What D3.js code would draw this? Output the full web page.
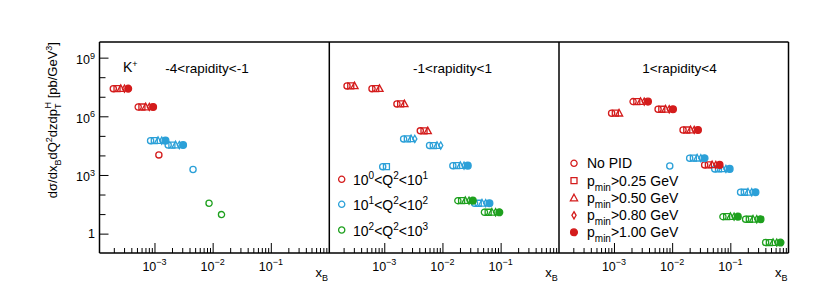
<!DOCTYPE html>
<html><head><meta charset="utf-8">
<script src="https://cdn.jsdelivr.net/npm/d3@7"></script>
<style>body{margin:0;background:#fff} text{font-family:"Liberation Sans",Arial,sans-serif;fill:#000}</style>
</head><body><svg id="c" width="830" height="293"></svg>
<script>
// ---------------- data ----------------
const panelTitles = ["-4<rapidity<-1", "-1<rapidity<1", "1<rapidity<4"];
const q2Lo = ["0", "1", "2"];
const q2Hi = ["1", "2", "3"];
const q2Colors = ["#d41c1c", "#2ba0d8", "#1ea01e"];
const pidLabels = ["No PID", "0.25", "0.50", "0.80", "1.00"];
const pidShapes = ["circle", "square", "triangle", "diamond", "fcircle"];
const xTickExps = [-3, -2, -1];
const yTickExps = [0, 3, 6, 9];

// panel 1 : -4<rapidity<-1
const p1_xB    = [1.96e-4, 5.25e-4, 1.19e-3, 8.57e-4, 1.72e-3, 4.6e-3, 8.67e-3, 1.42e-2];
const p1_sigma = [2.6e7, 3.0e6, 1.06e4, 5.7e4, 3.4e4, 1.9e3, 35.9, 9.4];
const p1_q2    = [0, 0, 0, 1, 1, 1, 2, 2];
const p1_nPid  = [5, 5, 1, 5, 5, 1, 1, 1];
// panel 2 : -1<rapidity<1
const p2_xB    = [2.29e-4, 6.15e-4, 1.65e-3, 4.16e-3, 2.15e-3, 6.0e-3, 9.4e-4, 1.51e-2, 3.56e-2, 1.84e-2, 5.27e-2];
const p2_sigma = [3.6e7, 2.6e7, 4.3e6, 1.8e5, 7.0e4, 3.2e4, 2.67e3, 3.0e3, 35.9, 48.7, 12.4];
const p2_q2    = [0, 0, 0, 0, 1, 1, 1, 1, 1, 2, 2];
const p2_nPid  = [3, 3, 3, 3, 4, 4, 2, 5, 5, 5, 5];
// panel 3 : 1<rapidity<4
const p3_xB    = [9.1e-4, 2.13e-3, 5.73e-3, 1.54e-2, 3.62e-2, 9.1e-3, 2.0e-2, 5.4e-2, 0.150, 7.46e-2, 0.183, 0.404];
const p3_sigma = [1.44e6, 5.65e6, 2.3e6, 2.0e5, 3.27e3, 2.9e3, 7.2e3, 2.04e3, 131, 7.4, 5.45, 0.35];
const p3_q2    = [0, 0, 0, 0, 0, 1, 1, 1, 1, 2, 2, 2];
const p3_nPid  = [3, 5, 5, 5, 5, 1, 5, 5, 5, 5, 5, 5];

const panelData = [
  {xB: p1_xB, sigma: p1_sigma, q2: p1_q2, nPid: p1_nPid},
  {xB: p2_xB, sigma: p2_sigma, q2: p2_q2, nPid: p2_nPid},
  {xB: p3_xB, sigma: p3_sigma, q2: p3_q2, nPid: p3_nPid}
];

// ---------------- layout ----------------
const svg = d3.select("#c");
const plotTop = 42, plotBottom = 253;
const panelLefts = [99.5, 329.3, 559];
const panelW = 229.5;
const pidShiftDex = 0.064; // horizontal display offset between PID variants (log10 units)

const y = d3.scaleLog().domain([Math.pow(10, -0.99), Math.pow(10, 9.8)]).range([plotBottom, plotTop]);

function markerPath(shape, cx, cy) {
  const p = d3.path();
  if (shape === "circle" || shape === "fcircle") {
    const r = shape === "circle" ? 3.1 : 3.4;
    p.moveTo(cx + r, cy); p.arc(cx, cy, r, 0, 2 * Math.PI);
  } else if (shape === "square") {
    p.rect(cx - 3, cy - 3, 6, 6);
  } else if (shape === "triangle") {
    p.moveTo(cx, cy - 3.8); p.lineTo(cx + 3.6, cy + 2.8); p.lineTo(cx - 3.6, cy + 2.8); p.closePath();
  } else if (shape === "diamond") {
    p.moveTo(cx, cy - 3.6); p.lineTo(cx + 2.1, cy); p.lineTo(cx, cy + 3.6); p.lineTo(cx - 2.1, cy); p.closePath();
  }
  return p.toString();
}
function drawMarker(g, shape, cx, cy, color) {
  g.append("path").attr("d", markerPath(shape, cx, cy))
    .attr("fill", shape === "fcircle" ? color : "none")
    .attr("stroke", color).attr("stroke-width", 1.3);
}
function powText(g, x, yy, exp, anchor, size) {
  const t = g.append("text").attr("x", x).attr("y", yy).attr("text-anchor", anchor)
    .style("font-size", size + "px");
  if (exp === 0) { t.text("1"); return t; }
  t.append("tspan").text("10");
  t.append("tspan").attr("dy", -5.5).style("font-size", (size * 0.72) + "px").text(String(exp).replace("-", "\u2212"));
  return t;
}

panelData.forEach((d, pi) => {
  const L = panelLefts[pi];
  const x = d3.scaleLog().domain([Math.pow(10, -3.945), 1]).range([L, L + panelW]);
  const g = svg.append("g");

  const majors = xTickExps.map(e => Math.pow(10, e));
  const minors = [];
  for (let e = -4; e < 0; e++) for (let k = 2; k <= 9; k++) {
    const v = k * Math.pow(10, e);
    if (v > x.domain()[0] && v < 1) minors.push(v);
  }
  const ax1 = g.append("g").attr("transform", `translate(0,${plotBottom})`)
    .call(d3.axisBottom(x).tickValues(majors).tickSize(-10).tickFormat(""));
  const ax2 = g.append("g").attr("transform", `translate(0,${plotBottom})`)
    .call(d3.axisBottom(x).tickValues(minors).tickSize(-5).tickFormat(""));
  [ax1, ax2].forEach(a => { a.select(".domain").remove(); a.selectAll("line").attr("stroke", "#000").attr("stroke-width", 1); });

  xTickExps.forEach(e => powText(g, x(Math.pow(10, e)), 270.5, e, "middle", 12.5));

  const xt = g.append("text").attr("x", L + panelW - 1).attr("y", 277).attr("text-anchor", "end").style("font-size", "13px");
  xt.append("tspan").text("x");
  xt.append("tspan").attr("dy", 4).style("font-size", "9px").text("B");

  const titleX = [207, 452.5, 679.5][pi];
  g.append("text").attr("x", titleX).attr("y", 73).attr("text-anchor", "middle").style("font-size", "13.5px").text(panelTitles[pi]);

  pidShapes.forEach((shape, k) => {
    d.xB.forEach((xv, i) => {
      if (d.nPid[i] > k) {
        drawMarker(g, shape, x(xv * Math.pow(10, k * pidShiftDex)), y(d.sigma[i]), q2Colors[d.q2[i]]);
      }
    });
  });
});

// y axis ticks
const yMaj = yTickExps.map(e => Math.pow(10, e));
const yMin = d3.range(1, 10).filter(e => !yTickExps.includes(e)).map(e => Math.pow(10, e));
const ya1 = svg.append("g").attr("transform", `translate(${panelLefts[0]},0)`)
  .call(d3.axisLeft(y).tickValues(yMaj).tickSize(-9).tickFormat(""));
const ya2 = svg.append("g").attr("transform", `translate(${panelLefts[0]},0)`)
  .call(d3.axisLeft(y).tickValues(yMin).tickSize(-6).tickFormat(""));
[ya1, ya2].forEach(a => { a.select(".domain").remove(); a.selectAll("line").attr("stroke", "#000").attr("stroke-width", 1); });
yTickExps.forEach(e => powText(svg, 95, y(Math.pow(10, e)) + (e === 0 ? 4.5 : 6.5), e, "end", 12.5));

// frame
const fr = svg.append("g").attr("fill", "none").attr("stroke", "#000").attr("stroke-width", 1.5);
fr.append("line").attr("x1", panelLefts[0]).attr("x2", panelLefts[2] + panelW).attr("y1", plotTop).attr("y2", plotTop);
fr.append("line").attr("x1", panelLefts[0]).attr("x2", panelLefts[2] + panelW).attr("y1", plotBottom).attr("y2", plotBottom);
[panelLefts[0], panelLefts[1], panelLefts[2], panelLefts[2] + panelW].forEach(xx =>
  fr.append("line").attr("x1", xx).attr("x2", xx).attr("y1", plotTop).attr("y2", plotBottom));

// y title
const yt = svg.append("text").attr("transform", `translate(57,42) rotate(-90)`).attr("text-anchor", "end").style("font-size", "13px");
yt.append("tspan").text("d\u03c3/dx");
yt.append("tspan").attr("dy", 4).style("font-size", "9px").text("B");
yt.append("tspan").attr("dy", -4).text("dQ");
yt.append("tspan").attr("dy", -5).style("font-size", "9px").text("2");
yt.append("tspan").attr("dy", 5).text("dzdp");
yt.append("tspan").attr("dy", 4).style("font-size", "9px").text("T");
yt.append("tspan").attr("dy", -10).attr("dx", -5).style("font-size", "9px").text("H");
yt.append("tspan").attr("dy", 6).text(" [pb/GeV");
yt.append("tspan").attr("dy", -5).style("font-size", "9px").text("3");
yt.append("tspan").attr("dy", 5).text("]");

// K+ label
const kt = svg.append("text").attr("x", 123).attr("y", 72).style("font-size", "14px");
kt.append("tspan").text("K");
kt.append("tspan").attr("dy", -5).style("font-size", "9px").text("+");

// Q2 legend (panel 2)
const q2LegY = [179.3, 204.3, 230];
q2LegY.forEach((ly, i) => {
  drawMarker(svg, "circle", 341.7, ly, q2Colors[i]);
  const t = svg.append("text").attr("x", 353).attr("y", ly + 5.5).style("font-size", "14px");
  t.append("tspan").text("10");
  t.append("tspan").attr("dy", -6).style("font-size", "10px").text(q2Lo[i]);
  t.append("tspan").attr("dy", 6).text("<Q");
  t.append("tspan").attr("dy", -6).style("font-size", "10px").text("2");
  t.append("tspan").attr("dy", 6).text("<10");
  t.append("tspan").attr("dy", -6).style("font-size", "10px").text(q2Hi[i]);
});

// PID legend (panel 3)
const pidLegY = [163.3, 180.7, 198, 215.3, 232.3];
pidLegY.forEach((ly, k) => {
  drawMarker(svg, pidShapes[k], 574, ly, q2Colors[0]);
  const t = svg.append("text").attr("x", 587).attr("y", ly + 5).style("font-size", "14px");
  if (k === 0) { t.text(pidLabels[0]); return; }
  t.append("tspan").text("p");
  t.append("tspan").attr("dy", 5).style("font-size", "10px").text("min");
  t.append("tspan").attr("dy", -5).text(">" + pidLabels[k] + " GeV");
});
</script></body></html>
